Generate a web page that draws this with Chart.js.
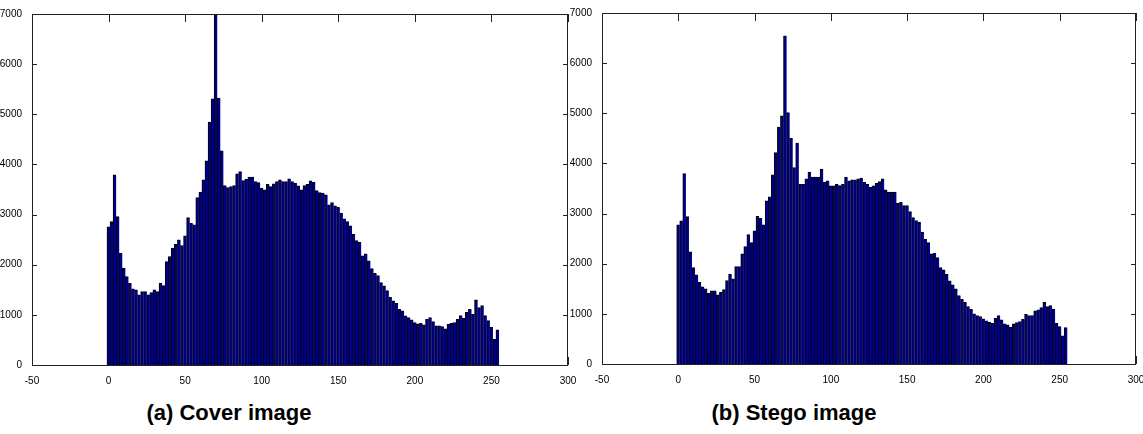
<!DOCTYPE html>
<html>
<head>
<meta charset="utf-8">
<script src="https://cdn.jsdelivr.net/npm/chart.js@4"></script>
<style>
  html, body { margin: 0; padding: 0; background: #fff; }
  body { width: 1143px; height: 434px; position: relative; overflow: hidden; }
  canvas { position: absolute; top: 0; }
  #cover { left: 0; }
  #stego { left: 570px; }
  .caption {
    position: absolute; top: 400px;
    font: bold 22px "Liberation Sans", Arial, sans-serif;
    color: #000; white-space: nowrap; transform: translateX(-50%);
  }
</style>
</head>
<body>
<canvas id="cover" width="585" height="385"></canvas>
<canvas id="stego" width="573" height="385"></canvas>
<div class="caption" style="left:229px">(a) Cover image</div>
<div class="caption" style="left:794px">(b) Stego image</div>
<script>
// histogram bins (gray level, 128 bins of width 2)
const binCenters = [
  0, 2, 4, 6, 8, 10, 12, 14, 16, 18, 20, 22, 24, 26, 28, 30,
  32, 34, 36, 38, 40, 42, 44, 46, 48, 50, 52, 54, 56, 58, 60, 62,
  64, 66, 68, 70, 72, 74, 76, 78, 80, 82, 84, 86, 88, 90, 92, 94,
  96, 98, 100, 102, 104, 106, 108, 110, 112, 114, 116, 118, 120, 122, 124, 126,
  128, 130, 132, 134, 136, 138, 140, 142, 144, 146, 148, 150, 152, 154, 156, 158,
  160, 162, 164, 166, 168, 170, 172, 174, 176, 178, 180, 182, 184, 186, 188, 190,
  192, 194, 196, 198, 200, 202, 204, 206, 208, 210, 212, 214, 216, 218, 220, 222,
  224, 226, 228, 230, 232, 234, 236, 238, 240, 242, 244, 246, 248, 250, 252, 254
];

const coverCounts = [
  2753, 2860, 3790, 2959, 2228, 1929, 1762, 1629, 1516, 1496,
  1397, 1463, 1463, 1397, 1443, 1496, 1463, 1629, 1583, 2062,
  2161, 2328, 2407, 2494, 2381, 2574, 2939, 2826, 2793, 3338,
  3445, 3691, 4070, 4841, 5307, 7000, 5320, 4269, 3578, 3538,
  3558, 3578, 3810, 3857, 3677, 3704, 3744, 3744, 3658, 3638,
  3525, 3491, 3604, 3558, 3611, 3658, 3691, 3658, 3658, 3711,
  3658, 3624, 3571, 3491, 3578, 3604, 3671, 3644, 3478, 3438,
  3425, 3392, 3192, 3239, 3172, 3145, 3026, 2913, 2860, 2773,
  2607, 2480, 2447, 2175, 2214, 2075, 1922, 1829, 1782, 1643,
  1576, 1483, 1350, 1277, 1230, 1111, 1077, 978, 944, 898,
  845, 818, 831, 798, 911, 944, 865, 778, 778, 765,
  718, 811, 831, 845, 911, 984, 931, 1051, 1111, 1011,
  1297, 1144, 1184, 984, 884, 751, 512, 699
];

const stegoCounts = [
  2773, 2853, 3797, 2939, 2234, 1922, 1776, 1629, 1536, 1496,
  1410, 1456, 1456, 1377, 1430, 1483, 1660, 1792, 1696, 1942,
  1942, 2195, 2341, 2580, 2420, 2653, 2945, 2906, 2773, 3254,
  3330, 3771, 4216, 4722, 4948, 6544, 5014, 4502, 3917, 4402,
  3584, 3584, 3691, 3824, 3724, 3724, 3724, 3884, 3624, 3651,
  3551, 3551, 3584, 3558, 3584, 3724, 3651, 3671, 3671, 3691,
  3704, 3624, 3584, 3525, 3551, 3604, 3638, 3691, 3471, 3425,
  3425, 3425, 3205, 3225, 3159, 3159, 3039, 2919, 2860, 2826,
  2627, 2487, 2421, 2195, 2208, 2121, 1922, 1875, 1789, 1656,
  1576, 1496, 1363, 1290, 1230, 1144, 1091, 998, 964, 944,
  898, 858, 831, 811, 911, 964, 878, 798, 778, 731,
  798, 825, 845, 891, 991, 964, 964, 1057, 1077, 1124,
  1230, 1144, 1164, 1091, 810, 745, 559, 725
];

const xTickValues = [-50, 0, 50, 100, 150, 200, 250, 300];
const yTickValues = [0, 1000, 2000, 3000, 4000, 5000, 6000, 7000];

const tickFont = { family: '"Liberation Sans Narrow", "Liberation Sans", Arial, sans-serif', size: 10 };

// matlab style box with inward ticks
const matlabAxes = {
  id: 'matlabAxes',
  beforeDatasetsDraw(chart) {
    const { ctx, chartArea: a, scales: { x, y } } = chart;
    ctx.save();
    ctx.strokeStyle = '#222';
    ctx.lineWidth = 1;
    ctx.beginPath();
    xTickValues.forEach(v => {
      const px = Math.round(x.getPixelForValue(v)) + 0.5;
      ctx.moveTo(px, a.top); ctx.lineTo(px, a.top + 8);
      ctx.moveTo(px, a.bottom); ctx.lineTo(px, a.bottom - 8);
    });
    yTickValues.forEach(v => {
      const py = Math.round(y.getPixelForValue(v)) + 0.5;
      ctx.moveTo(a.left, py); ctx.lineTo(a.left + 5, py);
      ctx.moveTo(a.right, py); ctx.lineTo(a.right - 5, py);
    });
    ctx.stroke();
    ctx.restore();
  },
  afterDatasetsDraw(chart) {
    const { ctx, chartArea: a } = chart;
    ctx.save();
    ctx.strokeStyle = '#222';
    ctx.lineWidth = 1;
    ctx.strokeRect(Math.round(a.left) + 0.5, Math.round(a.top) + 0.5,
      Math.round(a.right - a.left) - 1, Math.round(a.bottom - a.top));
    ctx.restore();
  }
};

function makeHist(id, counts, pad, xHeight) {
  new Chart(document.getElementById(id), {
    type: 'bar',
    data: {
      datasets: [{
        data: binCenters.map((c, i) => ({ x: c, y: counts[i] })),
        backgroundColor: '#00008a',
        borderColor: '#000',
        borderWidth: { top: 1, left: 1, right: 0, bottom: 0 },
        inflateAmount: 0.4,
        barPercentage: 1,
        categoryPercentage: 1
      }]
    },
    plugins: [matlabAxes],
    options: {
      responsive: false,
      animation: false,
      devicePixelRatio: 1,
      layout: { padding: pad },
      plugins: { legend: { display: false }, tooltip: { enabled: false } },
      scales: {
        x: {
          type: 'linear', min: -50, max: 300, offset: false,
          grid: { display: false }, border: { display: false },
          ticks: { font: tickFont, color: '#000', padding: 2, maxRotation: 0, autoSkip: false,
            callback: v => String(v) },
          afterBuildTicks: s => { s.ticks = xTickValues.map(v => ({ value: v })); },
          afterFit: s => { s.height = xHeight; s.paddingLeft = 0; s.paddingRight = 0; }
        },
        y: {
          min: 0, max: 7000,
          grid: { display: false }, border: { display: false },
          ticks: { font: tickFont, color: '#000', padding: 2, callback: v => String(v) },
          afterBuildTicks: s => { s.ticks = yTickValues.map(v => ({ value: v })); },
          afterFit: s => { s.width = 32; s.paddingTop = 0; s.paddingBottom = 0; }
        }
      }
    }
  });
}

makeHist('cover', coverCounts, { left: 0, top: 14, right: 17, bottom: 0 }, 20);
makeHist('stego', stegoCounts, { left: 0, top: 13, right: 7, bottom: 0 }, 21);
</script>
</body>
</html>
